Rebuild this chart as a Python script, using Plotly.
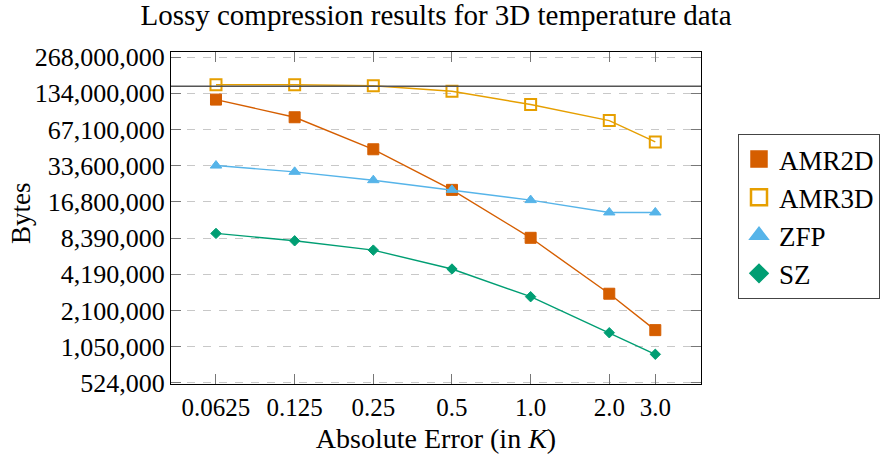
import plotly.graph_objects as go
import math

# ---- data ----
abs_error = [0.0625, 0.125, 0.25, 0.5, 1.0, 2.0, 3.0]
x_tick_labels = ["0.0625", "0.125", "0.25", "0.5", "1.0", "2.0", "3.0"]

amr2d = [118.8e6, 84.7e6, 45.9e6, 21.1e6, 8.43e6, 2.89e6, 1.44e6]
amr3d = [158e6, 158e6, 155e6, 139.5e6, 108e6, 79.5e6, 52.8e6]
zfp = [33.6e6, 29.8e6, 25.4e6, 21.1e6, 17.35e6, 13.7e6, 13.7e6]
sz = [9.17e6, 7.96e6, 6.66e6, 4.64e6, 2.73e6, 1.37e6, 0.907e6]

uncompressed_bytes = 153e6

y_tick_vals = [2 ** k for k in range(19, 29)]
y_tick_labels = ["524,000", "1,050,000", "2,100,000", "4,190,000", "8,390,000",
                 "16,800,000", "33,600,000", "67,100,000", "134,000,000", "268,000,000"]

series = [
    ("AMR2D", amr2d, "#D55E00", "square", 11, 1, 16),
    ("AMR3D", amr3d, "#E69F00", "square-open", 11, 2, 16),
    ("ZFP", zfp, "#56B4E9", "triangle-up", 10, 1, 16),
    ("SZ", sz, "#009E73", "diamond", 8, 1, 14),
]

FONT = "Liberation Serif, Times New Roman, DejaVu Serif, serif"

W, H = 887, 460
L, T = 171, 52
PW, PH = 530, 332

fig = go.Figure()
for name, vals, color, symbol, size, lw, lsize in series:
    fig.add_trace(go.Scatter(
        x=abs_error, y=vals, mode="lines", name=name, legendgroup=name,
        showlegend=False, line=dict(color=color, width=1.4),
        hoverinfo="skip"))
    fig.add_trace(go.Scatter(
        x=abs_error, y=vals, mode="markers", name=name, legendgroup=name,
        showlegend=False,
        marker=dict(symbol=symbol, size=size, color=color,
                    line=dict(color=color, width=lw))))
    # legend entry (no data, only sets the legend symbol size)
    fig.add_trace(go.Scatter(
        x=[None], y=[None], mode="markers", name=name, legendgroup=name,
        marker=dict(symbol=symbol, size=lsize, color=color,
                    line=dict(color=color, width=lw + 0.5))))

fig.add_shape(type="line", xref="paper", x0=0, x1=1, yref="y",
              y0=uncompressed_bytes, y1=uncompressed_bytes,
              line=dict(color="#555555", width=1.5), layer="above")

fig.add_annotation(text="Bytes", textangle=-90, showarrow=False,
                   xref="paper", x=(21 - L) / PW, xanchor="center",
                   yref="paper", y=(T + PH - 213) / PH, yanchor="middle",
                   font=dict(family=FONT, size=27, color="black"))

fig.update_layout(
    width=W, height=H,
    margin=dict(l=L, r=W - L - PW, t=T, b=H - T - PH, autoexpand=False),
    paper_bgcolor="white", plot_bgcolor="white",
    font=dict(family=FONT, size=25, color="black"),
    title=dict(text="Lossy compression results for 3D temperature data",
               x=0.5, xref="paper", xanchor="center",
               y=1 - 15 / H, yref="container", yanchor="middle",
               font=dict(family=FONT, size=29, color="black")),
    showlegend=True,
    legend=dict(x=(738 - L) / PW, xanchor="left",
                y=(T + PH - 134) / PH, yanchor="top",
                bordercolor="#444444", borderwidth=1,
                tracegroupgap=0,
                font=dict(family=FONT, size=27, color="black"),
                itemsizing="trace", bgcolor="white"),
)

fig.update_xaxes(
    type="log", automargin=False,
    range=[-4.572 * math.log10(2), 2.166 * math.log10(2)],
    tickmode="array", tickvals=abs_error, ticktext=x_tick_labels,
    ticks="inside", ticklen=10, tickcolor="#777777", tickwidth=1,
    showline=True, linecolor="black", linewidth=1.3, mirror="ticks",
    showgrid=False, zeroline=False,
    tickfont=dict(family=FONT, size=25), ticklabelstandoff=1,
    title=dict(text="Absolute Error (in <i>K</i>)", standoff=8,
               font=dict(family=FONT, size=28)),
)

fig.update_yaxes(
    type="log", automargin=False,
    range=[18.97 * math.log10(2), 28.138 * math.log10(2)],
    tickmode="array", tickvals=y_tick_vals, ticktext=y_tick_labels,
    ticks="inside", ticklen=10, tickcolor="#777777", tickwidth=1,
    showline=True, linecolor="black", linewidth=1.3, mirror="ticks",
    showgrid=True, gridcolor="#c8c8c8", gridwidth=1, griddash="8px,8px",
    zeroline=False,
    tickfont=dict(family=FONT, size=26),
)

fig.write_html("out.html", config={"displayModeBar": False},
               post_script="document.body.style.margin='0';")
